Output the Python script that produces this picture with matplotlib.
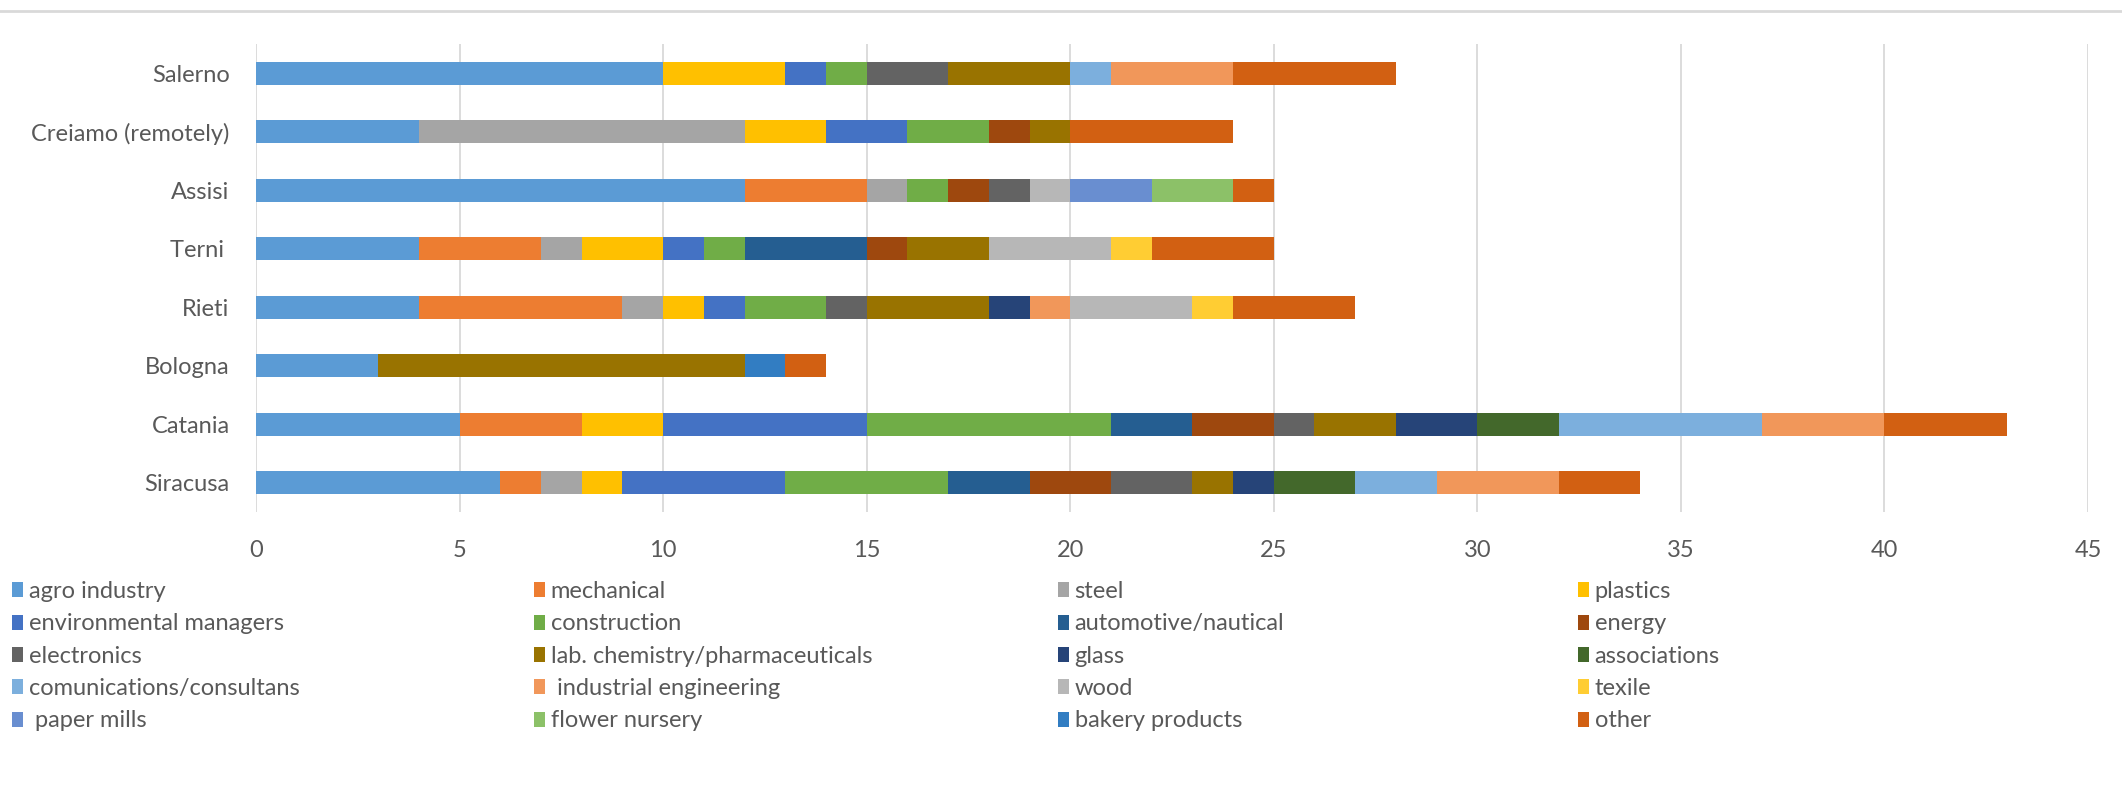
import numpy as np
import matplotlib
matplotlib.use('Agg')
import matplotlib.pyplot as plt
from matplotlib.lines import Line2D

# 城市 / 场地 (从上到下)
cities = ['Salerno', 'Creiamo (remotely)', 'Assisi', 'Terni ', 'Rieti',
          'Bologna', 'Catania', 'Siracusa']

# 行业类别
sectors = ['agro industry', 'mechanical', 'steel', 'plastics',
           'environmental managers', 'construction', 'automotive/nautical', 'energy',
           'electronics', 'lab. chemistry/pharmaceuticals', 'glass', 'associations',
           'comunications/consultans', ' industrial engineering', 'wood', 'texile',
           ' paper mills', 'flower nursery', 'bakery products', 'other']

# 每个行业在各城市的人数, 顺序与 cities 相同
agro_industry = [10, 4, 12, 4, 4, 3, 5, 6]
mechanical = [0, 0, 3, 3, 5, 0, 3, 1]
steel = [0, 8, 1, 1, 1, 0, 0, 1]
plastics = [3, 2, 0, 2, 1, 0, 2, 1]
environmental = [1, 2, 0, 1, 1, 0, 5, 4]
construction = [1, 2, 1, 1, 2, 0, 6, 4]
automotive = [0, 0, 0, 3, 0, 0, 2, 2]
energy = [0, 1, 1, 1, 0, 0, 2, 2]
electronics = [2, 0, 1, 0, 1, 0, 1, 2]
lab_chemistry = [3, 1, 0, 2, 3, 9, 2, 1]
glass = [0, 0, 0, 0, 1, 0, 2, 1]
associations = [0, 0, 0, 0, 0, 0, 2, 2]
communications = [1, 0, 0, 0, 0, 0, 5, 2]
industrial_eng = [3, 0, 0, 0, 1, 0, 3, 3]
wood = [0, 0, 1, 3, 3, 0, 0, 0]
texile = [0, 0, 0, 1, 1, 0, 0, 0]
paper_mills = [0, 0, 2, 0, 0, 0, 0, 0]
flower_nursery = [0, 0, 2, 0, 0, 0, 0, 0]
bakery = [0, 0, 0, 0, 0, 1, 0, 0]
other = [4, 4, 1, 3, 3, 1, 3, 2]

x_ticks = [0, 5, 10, 15, 20, 25, 30, 35, 40, 45]

# Office 配色
colors = ['#5B9BD5', '#ED7D31', '#A5A5A5', '#FFC000',
          '#4472C4', '#70AD47', '#255E91', '#9E480E',
          '#636363', '#997300', '#264478', '#43682B',
          '#7CAFDD', '#F1975A', '#B7B7B7', '#FFCD33',
          '#698ED0', '#8CC168', '#327DC2', '#D26012']

text_color = '#595959'
grid_color = '#D9D9D9'

plt.rcParams['font.family'] = ['Lato', 'DejaVu Sans']


def plot_stacked_bars():
    values = [agro_industry, mechanical, steel, plastics, environmental, construction,
              automotive, energy, electronics, lab_chemistry, glass, associations,
              communications, industrial_eng, wood, texile, paper_mills,
              flower_nursery, bakery, other]

    fig = plt.figure(figsize=(21.22, 8.02), dpi=100)
    ax = fig.add_axes([256 / 2122, 1 - 512 / 802, (2088 - 256) / 2122, (512 - 44) / 802])

    y = np.arange(len(cities))
    left = np.zeros(len(cities))
    handles = []
    for name, vals, c in zip(sectors, values, colors):
        vals = np.array(vals, dtype=float)
        h = ax.barh(y, vals, left=left, height=0.4, color=c, label=name, zorder=3)
        handles.append(h)
        left += vals

    ax.set_ylim(len(cities) - 0.5, -0.5)
    ax.set_yticks(y)
    ax.set_yticklabels(cities)
    ax.set_xlim(0, 45)
    ax.set_xticks(x_ticks)
    ax.tick_params(axis='y', length=0, pad=19, labelsize=17, labelcolor=text_color)
    ax.tick_params(axis='x', length=0, pad=20, labelsize=17, labelcolor=text_color)
    ax.grid(axis='x', color=grid_color, linewidth=1.3, zorder=0)
    for s in ax.spines.values():
        s.set_visible(False)

    # 图表顶部的边框线
    fig.add_artist(Line2D([0, 1], [1 - 11 / 802, 1 - 11 / 802], transform=fig.transFigure,
                          color=grid_color, linewidth=2))

    # 图例: 4 列, 按行排列
    col_x = [12, 534, 1058, 1578]
    for col in range(4):
        idx = list(range(col, len(sectors), 4))
        leg = fig.legend([handles[i] for i in idx], [sectors[i] for i in idx],
                         loc='upper left', bbox_to_anchor=(col_x[col] / 2122, 1 - 581 / 802),
                         frameon=False, fontsize=17, handlelength=0.45, handleheight=0.6,
                         handletextpad=0.25, labelspacing=0.48, borderpad=0, borderaxespad=0)
        for t in leg.get_texts():
            t.set_color(text_color)

    fig.savefig('out.png', dpi=100)
    plt.close(fig)


if __name__ == '__main__':
    plot_stacked_bars()
